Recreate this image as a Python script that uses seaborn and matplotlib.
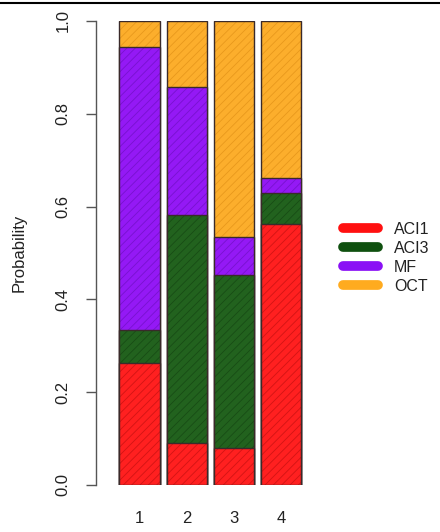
import numpy as np
import pandas as pd
import matplotlib
matplotlib.use("Agg")
import matplotlib.pyplot as plt
from matplotlib.lines import Line2D
import seaborn as sns

# ---- data ----
categories = ["1", "2", "3", "4"]
series = ["ACI1", "ACI3", "MF", "OCT"]
aci1 = [0.263, 0.091, 0.079, 0.563]
aci3 = [0.072, 0.490, 0.373, 0.066]
mf = [0.610, 0.276, 0.082, 0.033]
oct_ = [0.055, 0.143, 0.466, 0.338]
yticks = [0.0, 0.2, 0.4, 0.6, 0.8, 1.0]
ytick_labels = ["0.0", "0.2", "0.4", "0.6", "0.8", "1.0"]

fill_colors = ["#ff2020", "#22621e", "#9419f5", "#fcae2c"]
hatch_colors = ["#d21414", "#184c15", "#7812cf", "#e8981c"]
legend_colors = ["#ff1010", "#0f500f", "#8a10f5", "#ffab1f"]

sns.set_theme(style="white")
plt.rcParams["font.family"] = ["Liberation Sans", "DejaVu Sans"]
plt.rcParams["hatch.linewidth"] = 0.6

fig = plt.figure(figsize=(4.4, 5.32), dpi=100)
W, H = 440, 532
y0, y1 = 485, 21
ax = fig.add_axes([95.6 / W, (H - y0) / H, 230 / W, (y0 - y1) / H])

vals = np.array([aci1, aci3, mf, oct_])
cum = np.cumsum(vals, axis=0)

step = 47.2
width = 40.3 / step
left_gap = 44.0
# draw from top (largest cumulative) down so lower segments overlay
for i in range(len(series) - 1, -1, -1):
    df = pd.DataFrame({"cat": categories, "val": cum[i]})
    sns.barplot(data=df, x="cat", y="val", order=categories, color=fill_colors[i],
                width=width, ax=ax, hatch="////", edgecolor=hatch_colors[i],
                linewidth=0, saturation=1)
    sns.barplot(data=df, x="cat", y="val", order=categories, fill=False,
                width=width, ax=ax, edgecolor="#3a2a2a", linewidth=1.0)

ax.set_xlim(-left_gap / step, -left_gap / step + 230 / step)
ax.set_ylim(0, 1)
for s in ["top", "right", "bottom"]:
    ax.spines[s].set_visible(False)
ax.spines["left"].set_bounds(0, 1)
ax.spines["left"].set_color("#555555")
ax.spines["left"].set_linewidth(1.0)
ax.set_yticks(yticks)
ax.set_yticklabels(ytick_labels, rotation=90, va="center", fontsize=12, color="#222222")
ax.tick_params(axis="y", length=7, width=1.0, color="#555555", pad=11, left=True)
ax.tick_params(axis="x", length=0, pad=18.5, labelsize=12, labelcolor="#222222")
ax.set_xlabel("")
ax.set_ylabel("")
ax.grid(False)

fig.text(19 / W, 1 - 253 / H, "Probability", rotation=90, ha="center", va="center",
         fontsize=12, color="#222222")

handles = [Line2D([0], [0], color=c, linewidth=7, solid_capstyle="round") for c in legend_colors]
leg = fig.legend(handles, series, loc="upper left", bbox_to_anchor=(343 / W, 1 - 222 / H),
                 frameon=False, fontsize=11.5, handlelength=2.2, handletextpad=1.0,
                 labelspacing=0.25, borderpad=0, borderaxespad=0)
for t in leg.get_texts():
    t.set_color("#222222")

fig.add_artist(Line2D([0, 1], [1 - 2.5 / H, 1 - 2.5 / H], color="black", linewidth=1.5,
                      transform=fig.transFigure))

fig.savefig("out.png", dpi=100, facecolor="white")
